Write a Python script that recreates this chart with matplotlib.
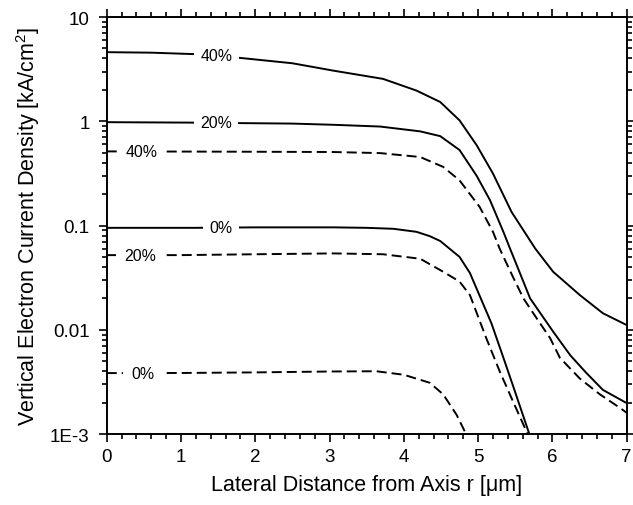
import numpy as np
import matplotlib
matplotlib.use("Agg")
import matplotlib.pyplot as plt
from matplotlib.ticker import MultipleLocator, LogLocator, NullFormatter

plt.rcParams['font.family'] = ['Liberation Sans', 'DejaVu Sans']
plt.rcParams['mathtext.fontset'] = 'custom'
plt.rcParams['mathtext.rm'] = 'Liberation Sans'
plt.rcParams['lines.scale_dashes'] = False

# curves: solid lines
x_s40 = [0, 0.6, 1.2, 1.8, 2.5, 3.05, 3.72, 4.17, 4.49, 4.75, 4.98, 5.2, 5.45, 5.77, 6.01, 6.37, 6.68, 7.0]
y_s40 = [4.6, 4.55, 4.4, 4.05, 3.6, 3.06, 2.55, 1.97, 1.53, 1.02, 0.59, 0.315, 0.135, 0.060, 0.036, 0.0215, 0.0144, 0.0111]

x_s20 = [0, 1.2, 1.8, 2.5, 3.05, 3.68, 4.22, 4.49, 4.75, 4.98, 5.16, 5.34, 5.43, 5.70, 6.01, 6.24, 6.45, 6.68, 7.0]
y_s20 = [0.98, 0.97, 0.96, 0.95, 0.925, 0.89, 0.80, 0.72, 0.53, 0.30, 0.175, 0.087, 0.060, 0.020, 0.0096, 0.0057, 0.0039, 0.00265, 0.00198]

x_s0 = [0, 1.2, 2.0, 3.05, 3.5, 3.86, 4.17, 4.35, 4.49, 4.75, 4.89, 5.18, 5.34, 5.47, 5.70]
y_s0 = [0.095, 0.095, 0.096, 0.096, 0.095, 0.093, 0.087, 0.079, 0.071, 0.050, 0.035, 0.0115, 0.0054, 0.0029, 0.00095]

# dashed lines
x_d40 = [0, 1.0, 2.0, 3.05, 3.68, 4.22, 4.53, 4.75, 5.02, 5.2, 5.29, 5.47, 5.61, 5.74, 5.97, 6.1, 6.37, 6.64, 6.91, 7.0]
y_d40 = [0.514, 0.512, 0.51, 0.507, 0.495, 0.454, 0.365, 0.271, 0.151, 0.087, 0.060, 0.032, 0.020, 0.0145, 0.0083, 0.0054, 0.0034, 0.0024, 0.00178, 0.0016]

x_d20 = [0, 1.0, 2.0, 3.05, 3.72, 4.22, 4.53, 4.75, 4.89, 5.11, 5.29, 5.47, 5.61, 5.67]
y_d20 = [0.052, 0.052, 0.053, 0.054, 0.053, 0.048, 0.036, 0.029, 0.0215, 0.0083, 0.004, 0.00205, 0.00123, 0.00098]

x_d0 = [0, 1.0, 2.0, 3.05, 3.63, 4.0, 4.35, 4.53, 4.71, 4.82, 4.86]
y_d0 = [0.00384, 0.00385, 0.0039, 0.00398, 0.0040, 0.0037, 0.0031, 0.0024, 0.00153, 0.00106, 0.00095]

labels = ['40%', '20%', '0%']
solid_label_x = [1.48, 1.47, 1.54]
dashed_label_x = [0.47, 0.45, 0.49]

ytick_vals = [1e-3, 1e-2, 1e-1, 1, 10]
ytick_labels = ['1E-3', '0.01', '0.1', '1', '10']

fig = plt.figure(figsize=(6.33, 5.06), dpi=100)
ax = fig.add_axes([0.1686, 0.1403, 0.8214, 0.8241])

solid = [(x_s40, y_s40), (x_s20, y_s20), (x_s0, y_s0)]
dashed = [(x_d40, y_d40), (x_d20, y_d20), (x_d0, y_d0)]

def curve_at(xs, ys, x0):
    # log-interp so the label sits on the line
    return 10 ** np.interp(x0, xs, np.log10(ys))

for (xs, ys), lab, lx in zip(solid, labels, solid_label_x):
    ax.plot(xs, ys, color='black', lw=1.4, zorder=2)
    ax.text(lx, curve_at(xs, ys, lx), lab, ha='center', va='center', fontsize=11.4,
            zorder=2.2, clip_on=True,
            bbox=dict(boxstyle='square,pad=0.4', fc='white', ec='none'))

for (xs, ys), lab, lx in zip(dashed, labels, dashed_label_x):
    ax.plot(xs, ys, color='black', lw=1.4, dashes=(7.2, 3.6), zorder=2)
    ax.text(lx, curve_at(xs, ys, lx), lab, ha='center', va='center', fontsize=11.4,
            zorder=2.2, clip_on=True,
            bbox=dict(boxstyle='square,pad=0.55', fc='white', ec='none'))

ax.set_yscale('log')
ax.set_xlim(0, 7)
ax.set_ylim(1e-3, 10)
ax.xaxis.set_major_locator(MultipleLocator(1))
ax.xaxis.set_minor_locator(MultipleLocator(0.2))
ax.set_yticks(ytick_vals)
ax.set_yticklabels(ytick_labels)
ax.yaxis.set_minor_locator(LogLocator(base=10, subs=np.arange(2, 10)))
ax.yaxis.set_minor_formatter(NullFormatter())

ax.tick_params(which='both', direction='out', top=True, right=True, width=1.2, labelsize=13.5)
ax.tick_params(which='major', length=5.8)
ax.tick_params(which='minor', length=3.6)
ax.tick_params(axis='x', which='major', pad=4)
ax.tick_params(axis='y', which='major', pad=6.5)
for s in ax.spines.values():
    s.set_linewidth(1.4)

ax.set_xlabel('Lateral Distance from Axis r [\u03bcm]', fontsize=15.5, labelpad=7)
ax.set_ylabel('Vertical Electron Current Density [kA/cm$^2$]', fontsize=15.5, labelpad=6)

fig.savefig('out.png', dpi=100)
